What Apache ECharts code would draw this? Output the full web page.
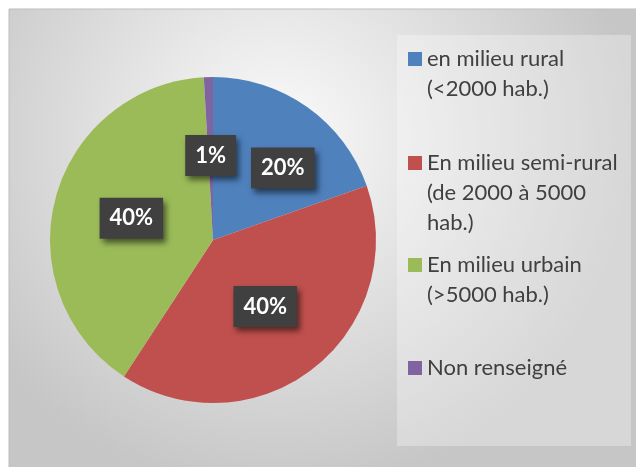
<!DOCTYPE html>
<html>
<head>
<meta charset="utf-8">
<script src="https://cdn.jsdelivr.net/npm/echarts@6/dist/echarts.min.js"></script>
<style>
  html, body { margin: 0; padding: 0; background: #fff; }
  #chart { width: 636px; height: 467px; }
</style>
</head>
<body>
<div id="chart"></div>
<script>
// 데이터
var categories = [
  'en milieu rural\n(<2000 hab.)',
  'En milieu semi-rural\n(de 2000 à 5000\nhab.)',
  'En milieu urbain\n(>5000 hab.)',
  'Non renseigné'
];
var shares = [19.6, 39.6, 39.9, 0.9];
var colors = ['#4f81bd', '#c0504d', '#9bbb59', '#8064a2'];
var legendTops = [14, 88, 220, 353];

var chart = echarts.init(document.getElementById('chart'));

// 범례 하나씩 (빈 줄을 앞에 붙여서 아이콘이 첫 줄에 오도록)
var legends = categories.map(function (name, i) {
  return {
    orient: 'vertical',
    left: 408,
    top: legendTops[i],
    padding: 0,
    itemWidth: 14,
    itemHeight: 14,
    icon: 'rect',
    data: [name],
    formatter: function (n) {
      var lines = n.split('\n').length;
      return new Array(lines).join('\n') + n;
    },
    textStyle: {
      color: '#404040',
      fontSize: 22,
      lineHeight: 30,
      fontFamily: 'Lato'
    }
  };
});

var option = {
  animation: false,
  graphic: {
    elements: [
      {
        type: 'rect',
        z: -10,
        shape: { x: 9, y: 9, width: 640, height: 470 },
        style: {
          fill: {
            type: 'radial', x: 0.42, y: 0.28, r: 0.75,
            colorStops: [
              { offset: 0, color: '#fbfbfb' },
              { offset: 1, color: '#c6c6c6' }
            ]
          },
          stroke: '#bdbdbd',
          lineWidth: 1
        }
      },
      {
        type: 'rect',
        z: -9,
        shape: { x: 397, y: 35, width: 234, height: 411 },
        style: { fill: 'rgba(255,255,255,0.3)' }
      }
    ]
  },
  legend: legends,
  series: [
    {
      type: 'pie',
      center: [213, 240],
      radius: 163,
      startAngle: 90,
      clockwise: true,
      avoidLabelOverlap: false,
      label: {
        show: true,
        position: 'inside',
        formatter: function (p) { return Math.round(p.percent) + '%'; },
        color: '#fff',
        fontFamily: 'Lato',
        fontWeight: 'bold',
        fontSize: 22,
        backgroundColor: '#404040',
        padding: [10, 10, 9, 10],
        shadowColor: 'rgba(0,0,0,0.55)',
        shadowBlur: 6,
        shadowOffsetX: 3,
        shadowOffsetY: 4
      },
      labelLine: { show: false },
      emphasis: { disabled: true },
      data: categories.map(function (name, i) {
        var item = { name: name, value: shares[i], itemStyle: { color: colors[i] } };
        if (i === 0) item.label = { offset: [21, -3] };
        return item;
      })
    }
  ]
};

chart.setOption(option);
</script>
</body>
</html>
